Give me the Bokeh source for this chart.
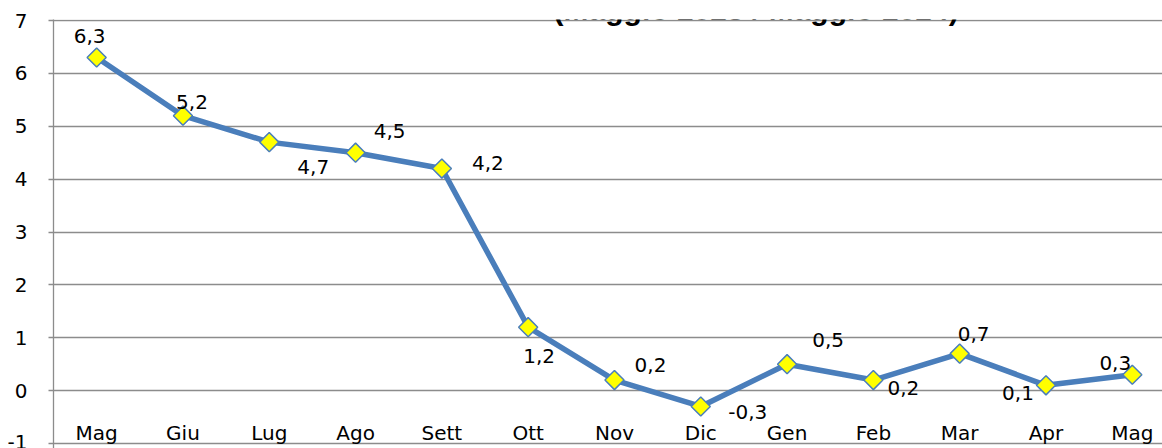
import numpy as np
from bokeh.plotting import figure
from bokeh.models import ColumnDataSource, FixedTicker, Label, Range1d, PrintfTickFormatter
from bokeh.core.properties import value
from bokeh.embed import file_html
from bokeh.resources import INLINE

# ---- data ----
months = ["Mag", "Giu", "Lug", "Ago", "Sett", "Ott", "Nov", "Dic", "Gen", "Feb", "Mar", "Apr", "Mag"]
values = [6.3, 5.2, 4.7, 4.5, 4.2, 1.2, 0.2, -0.3, 0.5, 0.2, 0.7, 0.1, 0.3]
y_ticks = [-1, 0, 1, 2, 3, 4, 5, 6, 7]
title_text = "(Maggio  2023 / Maggio 2024)"

# label placement (screen px offsets from each point)
label_dx = [-7, 9, 44, 34, 46, 11, 36, 47, 41, 30, 14, -28, -17]
label_dy = [-22, -14, 25, -22, -6, 29, -15, 6, -24, 8, -20, 8, -12]

FONT = "DejaVu Sans"
BLUE = "#4a7ebb"
GRID = "#8c8c8c"

idx = list(range(len(months)))
labels = [f"{v:.1f}".replace(".", ",") for v in values]

src = ColumnDataSource(dict(x=idx, y=values, lab=labels, dx=label_dx, dy=label_dy))
cat_src = ColumnDataSource(dict(x=idx, y=[-0.81] * len(months), m=months))

p = figure(width=1162, height=448, output_backend="svg", toolbar_location=None,
           x_range=Range1d(-0.5, 12.35), y_range=Range1d(-1.0946, 7.019),
           x_axis_type=None, title=None,
           min_border_left=53, min_border_right=0, min_border_top=19, min_border_bottom=0)
p.outline_line_color = None
p.background_fill_color = "white"
p.border_fill_color = "white"

p.xgrid.visible = False
p.ygrid.ticker = FixedTicker(ticks=y_ticks)
p.ygrid.grid_line_color = GRID
p.ygrid.grid_line_width = 1.3

ax = p.yaxis[0]
ax.ticker = FixedTicker(ticks=y_ticks)
ax.formatter = PrintfTickFormatter(format="%d")
ax.axis_line_color = GRID
ax.axis_line_width = 1.3
ax.major_tick_line_color = GRID
ax.major_tick_line_width = 1.3
ax.major_tick_in = 0
ax.major_tick_out = 5
ax.minor_tick_line_color = None
ax.major_label_text_font = FONT
ax.major_label_text_font_size = "20px"
ax.major_label_text_color = "black"
ax.major_label_standoff = 21

p.line("x", "y", source=src, line_color=BLUE, line_width=5.5)
p.scatter("x", "y", source=src, marker="square", angle=np.pi / 4, size=13.5,
          fill_color="#ffff00", line_color=BLUE, line_width=1.5)

p.text("x", "y", text="lab", source=src, x_offset="dx", y_offset="dy",
       text_font=value(FONT), text_font_size="20px", text_color="black",
       text_align="center", text_baseline="middle")

p.text("x", "y", text="m", source=cat_src,
       text_font=value(FONT), text_font_size="20px", text_color="black",
       text_align="center", text_baseline="alphabetic")

title = Label(x=7.69, y=7.208, text=title_text, text_font="Liberation Sans",
              text_font_style="bold", text_font_size="30px", text_align="center",
              text_baseline="alphabetic", text_color="black")
p.add_layout(title)

open("out.html", "w").write(file_html(p, INLINE))
